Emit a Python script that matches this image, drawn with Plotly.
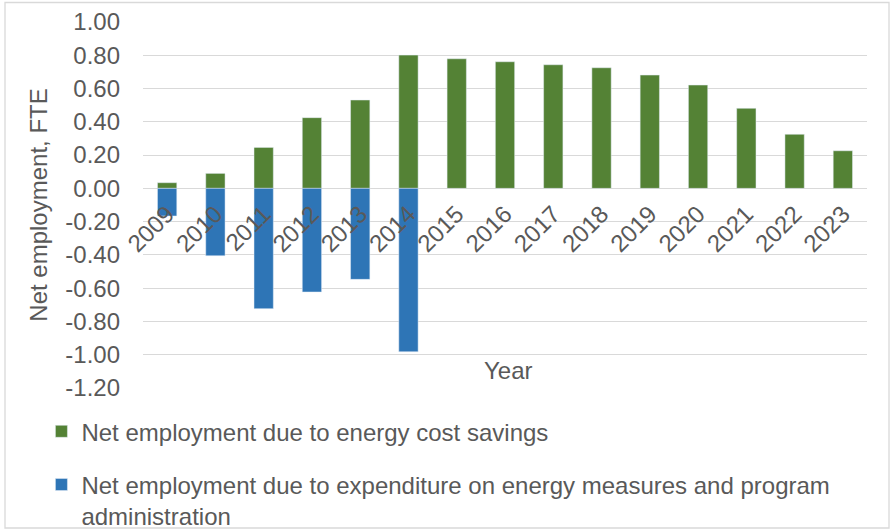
import plotly.graph_objects as go

years = ["2009", "2010", "2011", "2012", "2013", "2014", "2015", "2016",
         "2017", "2018", "2019", "2020", "2021", "2022", "2023"]
energy_cost_savings = [0.034, 0.09, 0.246, 0.425, 0.531, 0.801, 0.779, 0.761,
                       0.743, 0.725, 0.681, 0.621, 0.481, 0.325, 0.226]
expenditure = [-0.166, -0.405, -0.723, -0.623, -0.547, -0.982, None, None,
               None, None, None, None, None, None, None]
y_tick_vals = [1.0, 0.8, 0.6, 0.4, 0.2, 0.0, -0.2, -0.4, -0.6, -0.8, -1.0, -1.2]
y_tick_text = ["1.00", "0.80", "0.60", "0.40", "0.20", "0.00", "-0.20", "-0.40",
               "-0.60", "-0.80", "-1.00", "-1.20"]

FONT = "Liberation Sans, Arial, sans-serif"
TXT = "#595959"
GREEN = "#548235"
BLUE = "#2E75B6"

fig = go.Figure()
fig.add_trace(go.Bar(x=years, y=energy_cost_savings, marker_color=GREEN,
                     name="Net employment due to energy cost savings",
                     legendgroup="a"))
fig.add_trace(go.Bar(x=years, y=expenditure, marker_color=BLUE,
                     name="Net employment due to expenditure on energy measures and program<br>administration",
                     legendgroup="b"))

ymin, ymax = -1.2, 1.0
zero_pos = (0 - ymin) / (ymax - ymin)

fig.update_layout(
    width=891, height=529,
    margin=dict(l=143, r=24, t=22, b=141, autoexpand=False),
    barmode="relative",
    bargap=0.6,
    paper_bgcolor="white",
    plot_bgcolor="white",
    font=dict(family=FONT, size=24, color=TXT),
    xaxis=dict(
        type="category",
        anchor="free",
        position=zero_pos,
        tickangle=-45,
        showgrid=False,
        showline=False,
        ticks="",
        ticklabelstandoff=6,
        tickfont=dict(size=24, color=TXT),
    ),
    yaxis=dict(
        range=[ymin, ymax],
        tickvals=y_tick_vals,
        ticktext=y_tick_text,
        showgrid=True,
        gridcolor="#D9D9D9",
        gridwidth=1.3,
        zeroline=False,
        showline=False,
        ticks="",
        ticklabelstandoff=22,
        tickfont=dict(size=24, color=TXT),
        title=dict(text="Net employment, FTE", font=dict(size=24, color=TXT), standoff=10),
    ),
    legend=dict(
        x=-0.1403, y=-0.058, xanchor="left", yanchor="top",
        traceorder="grouped",
        tracegroupgap=19,
        valign="top",
        font=dict(size=24, color=TXT),
        bgcolor="rgba(0,0,0,0)",
    ),
    showlegend=True,
)

fig.add_annotation(text="Year", xref="paper", yref="paper", x=0.5055, y=0.049,
                   yanchor="middle", xanchor="center",
                   showarrow=False, font=dict(size=24, color=TXT))

# chart-area border
fig.add_shape(type="rect", xref="paper", yref="paper",
              x0=(5 - 143) / 724, x1=(889 - 143) / 724,
              y0=(388 - 528) / 366, y1=(388 - 2.5) / 366,
              line=dict(color="#D9D9D9", width=1.3), layer="below")

fig.write_html("out.html", config={"displayModeBar": False},
               post_script="document.body.style.margin='0';")
